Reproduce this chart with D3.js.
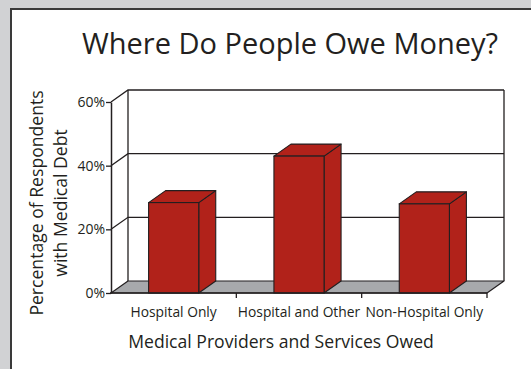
<!DOCTYPE html>
<html><head><meta charset="utf-8">
<script src="https://cdn.jsdelivr.net/npm/d3@7"></script>
<style>body{margin:0;padding:0;background:#d1d2d4;overflow:hidden}svg{display:block}</style>
</head><body>
<svg id="c" width="531" height="369"></svg>
<script>
const categories = ["Hospital Only", "Hospital and Other", "Non-Hospital Only"];
const values = [28.4, 43, 28];
const yTicks = [0, 20, 40, 60];
const title = "Where Do People Owe Money?";
const xTitle = "Medical Providers and Services Owed";
const yTitle = ["Percentage of Respondents", "with Medical Debt"];

const svg = d3.select("#c");
const FONT = "'Open Sans', sans-serif";
const ink = "#231f20";
const red = "#b1221a";
const floorGray = "#a7a9ac";

// panel
svg.append("rect").attr("x", 0).attr("y", 0).attr("width", 531).attr("height", 369).attr("fill", "#d1d2d4");
svg.append("rect").attr("x", 10).attr("y", 8).attr("width", 530).attr("height", 380).attr("fill", "#fff");
svg.append("path").attr("d", "M11,369V9H531").attr("fill", "none").attr("stroke", "#3a3a3a").attr("stroke-width", 2);

const x = d3.scaleBand().domain(categories).range([111, 487]).paddingInner(0.6).paddingOuter(0.3);
const y = d3.scaleLinear().domain([0, 60]).range([293, 102]);
const dx = 17, dy = -12;
const x0 = 111, x1 = 487;

const g = svg.append("g");
// back wall gridlines + side wall lines
yTicks.forEach(t => {
  if (t === 0) return;
  g.append("path")
    .attr("d", `M${x0},${y(t)}L${x0+dx},${y(t)+dy}H${x1+dx}`)
    .attr("fill", "none").attr("stroke", ink).attr("stroke-width", 1.3);
});
// back wall verticals
g.append("line").attr("x1", x0+dx).attr("x2", x0+dx).attr("y1", y(0)+dy).attr("y2", y(60)+dy).attr("stroke", ink).attr("stroke-width", 1.3);
g.append("line").attr("x1", x1+dx).attr("x2", x1+dx).attr("y1", y(0)+dy).attr("y2", y(60)+dy).attr("stroke", ink).attr("stroke-width", 1.3);
// floor
g.append("path")
  .attr("d", `M${x0},${y(0)}L${x0+dx},${y(0)+dy}H${x1+dx}L${x1},${y(0)}Z`)
  .attr("fill", floorGray).attr("stroke", ink).attr("stroke-width", 1.2).attr("stroke-linejoin", "round");

// bars
const bars = g.selectAll("g.bar").data(categories).join("g").attr("class", "bar");
bars.each(function(c, i) {
  const b = d3.select(this);
  const l = x(c), r = x(c) + x.bandwidth(), top = y(values[i]), bot = y(0);
  const w = 1.1;
  b.append("path").attr("d", `M${r},${bot}L${r+dx},${bot+dy}V${top+dy}L${r},${top}Z`)
    .attr("fill", red).attr("stroke", ink).attr("stroke-width", w).attr("stroke-linejoin", "round");
  b.append("path").attr("d", `M${l},${top}L${l+dx},${top+dy}H${r+dx}L${r},${top}Z`)
    .attr("fill", red).attr("stroke", ink).attr("stroke-width", w).attr("stroke-linejoin", "round");
  b.append("rect").attr("x", l).attr("y", top).attr("width", r - l).attr("height", bot - top)
    .attr("fill", red).attr("stroke", ink).attr("stroke-width", w);
});

// y axis
const yAxis = d3.axisLeft(y).tickValues(yTicks).tickFormat(d => d + "%").tickSize(5).tickSizeOuter(0).tickPadding(1);
const ya = svg.append("g").attr("transform", `translate(${x0},0)`).call(yAxis);
ya.select(".domain").attr("stroke", ink).attr("stroke-width", 1.5);
ya.selectAll(".tick line").attr("stroke", ink).attr("stroke-width", 1.3);
ya.selectAll(".tick text").attr("font-family", FONT).attr("font-size", 14).attr("fill", ink);

// x axis front line and boundary ticks
svg.append("line").attr("x1", x0 - 1).attr("x2", x1).attr("y1", y(0)).attr("y2", y(0)).attr("stroke", ink).attr("stroke-width", 1.5);
const bounds = d3.range(categories.length + 1).map(i => x0 + i * x.step());
svg.selectAll("line.bt").data(bounds.slice(1)).join("line").attr("class", "bt")
  .attr("x1", d => d).attr("x2", d => d).attr("y1", y(0)).attr("y2", y(0) + 5)
  .attr("stroke", ink).attr("stroke-width", 1.3);
const xAxis = d3.axisBottom(x).tickSize(0).tickPadding(14);
const xa = svg.append("g").attr("transform", `translate(0,${y(0)})`).call(xAxis);
xa.select(".domain").remove();
xa.selectAll(".tick text").attr("font-family", FONT).attr("font-size", 13.8).attr("fill", ink);

// titles
svg.append("text").attr("x", 290).attr("y", 54).attr("text-anchor", "middle")
  .attr("font-family", FONT).attr("font-size", 29).attr("fill", ink).text(title);
svg.append("text").attr("x", 281).attr("y", 348).attr("text-anchor", "middle")
  .attr("font-family", FONT).attr("font-size", 17.6).attr("fill", ink).text(xTitle);
const yt = svg.append("text").attr("transform", "translate(43,203) rotate(-90)")
  .attr("text-anchor", "middle").attr("font-family", FONT).attr("font-size", 17.6).attr("fill", ink);
yTitle.forEach((s, i) => yt.append("tspan").attr("x", 0).attr("dy", i === 0 ? 0 : 24).text(s));
</script>
</body></html>
